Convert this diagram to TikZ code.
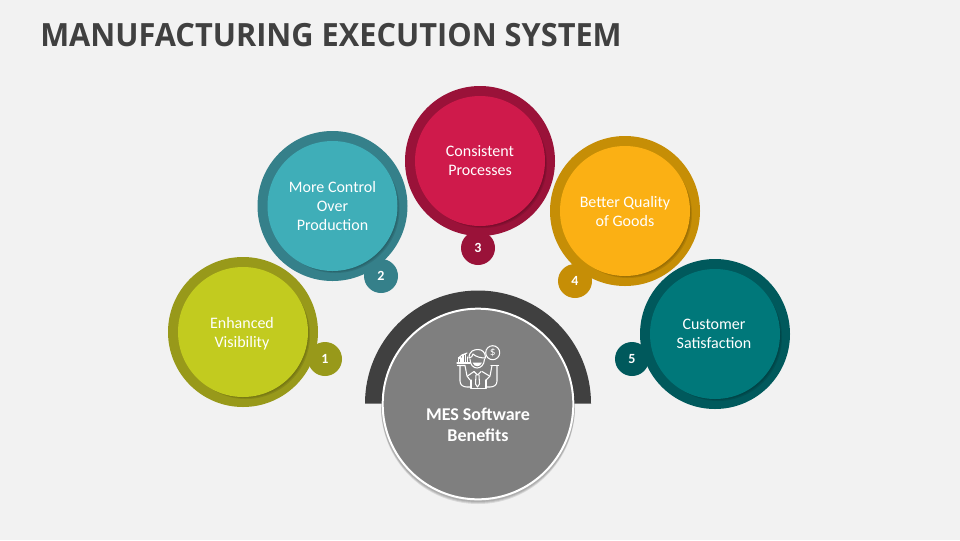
\documentclass[tikz,border=0pt]{standalone}
\usepackage{fontspec}
\setmainfont{Carlito}
\newfontfamily\titlefont{Open Sans}[FakeStretch=0.96]
\usepackage{tikz}
\usetikzlibrary{
	math,
	positioning
}
\definecolor{paper}{HTML}{F2F2F2}
\definecolor{ink}{HTML}{404040}
\definecolor{midgray}{HTML}{7F7F7F}
\definecolor{limeA}{HTML}{C2CB1F}
\definecolor{limeB}{HTML}{98991A}
\definecolor{aquaA}{HTML}{3FAEB8}
\definecolor{aquaB}{HTML}{35808A}
\definecolor{redA}{HTML}{CF1A4B}
\definecolor{redB}{HTML}{9A1239}
\definecolor{amberA}{HTML}{FBB014}
\definecolor{amberB}{HTML}{C68E06}
\definecolor{pineA}{HTML}{00787A}
\definecolor{pineB}{HTML}{00595C}
\tikzstyle{rim} = [circle, inner sep=0pt, minimum size=112.5pt]
\tikzstyle{face} = [circle, inner sep=0pt, minimum size=97.5pt]
\tikzstyle{caption} = [align=center, text=white, inner sep=0pt, font=\fontsize{12}{14.25}\selectfont]
\tikzstyle{badge} = [circle, inner sep=0pt, minimum size=25.5pt, text=white, font=\fontsize{10.5}{12}\selectfont\bfseries]
\tikzstyle{icon} = [white, line width=0.8pt, line cap=round, line join=round]

\begin{document}
\begin{tikzpicture}[x=0.75pt, y=-0.75pt]
	\useasboundingbox (0,0) rectangle (960,540);
	\fill[paper] (0,0) rectangle (960,540);

	\node[anchor=base west, text=ink, font=\titlefont\bfseries\fontsize{24}{28}\selectfont, inner sep=0pt] (title) at (40,46) {MANUFACTURING EXECUTION SYSTEM};

	% benefit circles
	\foreach \index/\cx/\cy/\bx/\by/\tx/\ty/\colA/\colB/\label in {
			1/243/332/325/359/242/334/limeA/limeB/{Enhanced\\Visibility},
			2/332.5/206/381/276/332.5/206/aquaA/aquaB/{More Control\\Over\\Production},
			3/480/161/478/248/480/161/redA/redB/{Consistent\\Processes},
			4/625/211/575/281/625/211/amberA/amberB/{Better Quality\\of Goods},
			5/715/334/632/359/714/334/pineA/pineB/{Customer\\Satisfaction}} {
			\node[rim, fill=\colB] (rim\index) at (\cx,\cy) {};
			\node[badge, fill=\colB] (badge\index) at (\bx,\by) {\index};
			\foreach \off in {1,2,3} {
					\fill[black, opacity=0.1] (\cx+\off,\cy+\off) circle (64);
				}
			\node[face, fill=\colA] (face\index) at (\cx,\cy) {};
			\node[caption] (caption\index) at (\tx,\ty) {\label};
		}

	% half ring behind the centre
	\fill[ink] (365,403.5) arc[start angle=180, end angle=360, radius=113] -- cycle;

	% centre circle
	\foreach \off in {1,2,3} {
			\fill[black, opacity=0.1] (478,404+\off) circle (97);
		}
	\node[circle, fill=midgray, draw=white, line width=1.5pt, minimum size=143pt, inner sep=0pt] (hub) at (478,404) {};
	\node[align=center, text=white, font=\fontsize{13.5}{15.75}\selectfont\bfseries] (hubtext) at (478,424.5) {MES Software\\Benefits};

	% person with chart and coin
	\draw[icon] (492.7,352.7) circle (7);
	\node[text=white, inner sep=0pt, font=\fontsize{8.5}{9}\selectfont] (coin) at (492.7,352.7) {\$};
	\draw[icon] (470,359) .. controls (470,371) and (484,371) .. (484.5,359);
	\draw[icon] (469,358) .. controls (469,351) and (474,349.5) .. (478,349.5) .. controls (482,349.5) and (485.5,352) .. (485.5,358) .. controls (481,358) and (476,357) .. (473,354) .. controls (473,356) and (471,358) .. (469,358);
	\fill[white] (472.5,362.5) .. controls (474,367.5) and (480.5,367.5) .. (482,362.5) -- cycle;
	\draw[icon] (457,363) -- (470,363);
	\draw[icon] (458.5,363) -- (458.5,358) -- (461,358) -- (461,363);
	\draw[icon] (463,363) -- (463,354.5) -- (465.5,354.5) -- (465.5,363);
	\draw[icon] (467.5,363) -- (467.5,357);
	\draw[icon] (458.5,358) -- (462,355) -- (467,353);
	\draw[icon] (457.5,365.5) -- (465,365.5) -- (467,376) -- (470,380);
	\draw[icon] (460,365.5) -- (460,381) .. controls (460,385) and (463,387) .. (467,387) -- (471,387);
	\draw[icon] (491,365.5) -- (498.5,365.5);
	\draw[icon] (497,365.5) -- (497,381) .. controls (497,385) and (494,387) .. (490,387) -- (486,387);
	\draw[icon] (492,365.5) -- (490,376) -- (486,380);
	\draw[icon] (471,380) -- (471,388.5) -- (486,388.5) -- (486,380);
	\draw[icon] (467.5,376) -- (474,371.5) (489.5,376) -- (482,371.5);
	\draw[icon] (474,371.5) -- (477.5,375) -- (481,371.5);
	\draw[icon] (476,375) -- (475.5,384) -- (477.5,387) -- (479.5,384) -- (479,375);
\end{tikzpicture}
\end{document}
